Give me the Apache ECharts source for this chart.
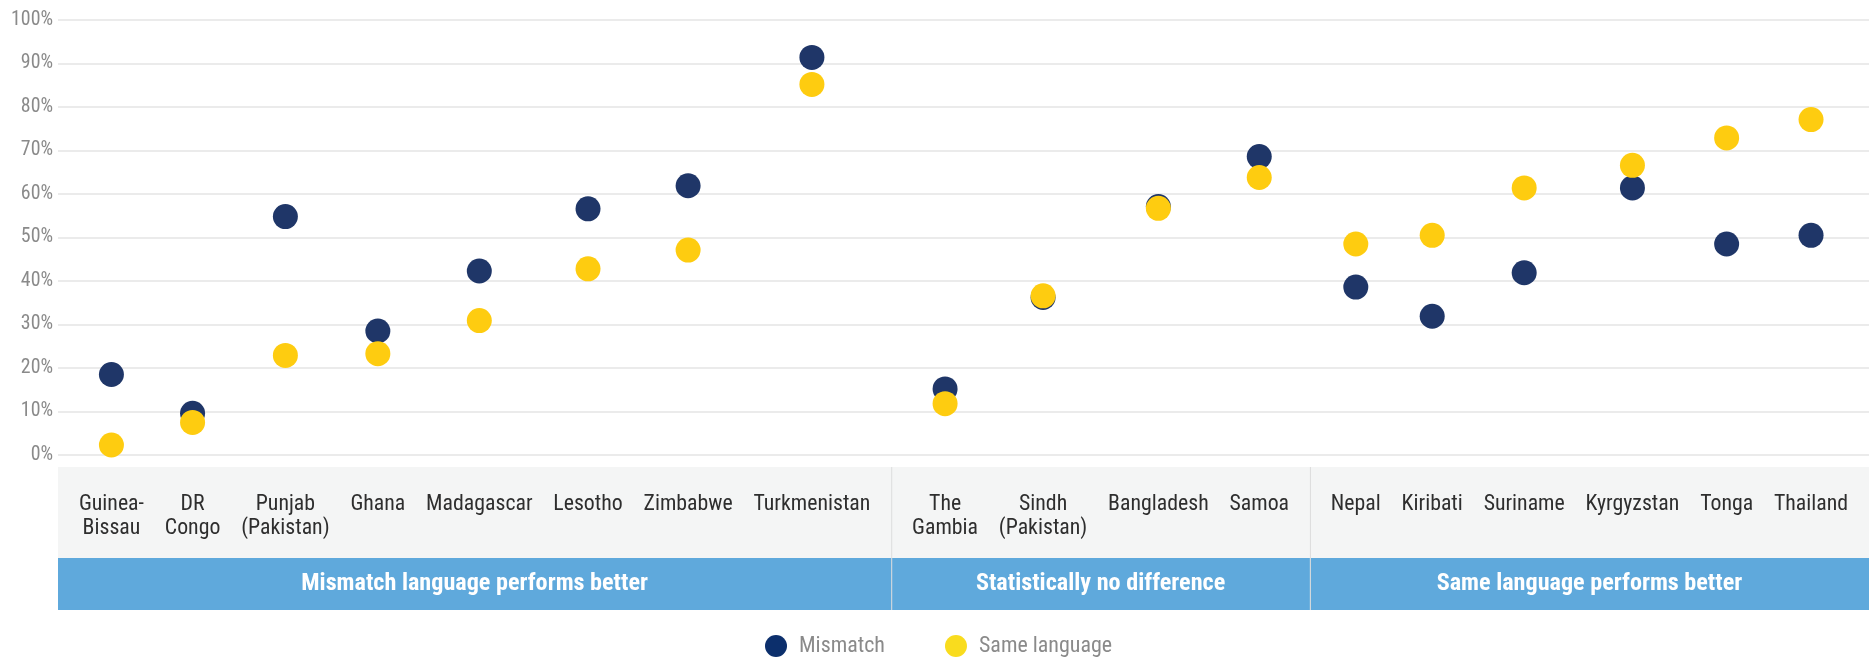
<!DOCTYPE html>
<html>
<head>
<meta charset="utf-8">
<script src="https://cdn.jsdelivr.net/npm/echarts@6/dist/echarts.min.js"></script>
<style>
html,body{margin:0;padding:0;background:#fff;}
#chart{width:1869px;height:657px;}
</style>
</head>
<body>
<div id="chart"></div>
<script>
// ---- data ----
const categories = ['Guinea-\nBissau', 'DR\nCongo', 'Punjab\n(Pakistan)', 'Ghana', 'Madagascar', 'Lesotho', 'Zimbabwe', 'Turkmenistan',
  'The\nGambia', 'Sindh\n(Pakistan)', 'Bangladesh', 'Samoa',
  'Nepal', 'Kiribati', 'Suriname', 'Kyrgyzstan', 'Tonga', 'Thailand'];
const mismatch = [18.5, 9.6, 54.8, 28.5, 42.3, 56.6, 61.9, 91.4, 15.2, 36.2, 57.1, 68.6, 38.6, 31.9, 41.9, 61.4, 48.5, 50.5];
const sameLanguage = [2.3, 7.5, 22.9, 23.3, 30.9, 42.8, 47.1, 85.2, 11.8, 36.6, 56.7, 63.8, 48.5, 50.5, 61.4, 66.6, 72.9, 77.1];
const groupNames = ['Mismatch language performs better', 'Statistically no difference', 'Same language performs better'];
const groupSizes = [8, 4, 6];
const seriesNames = ['Mismatch', 'Same language'];
const yMin = 0, yMax = 100, yStep = 10;

// ---- font selection / sizing ----
const ctx = document.createElement('canvas').getContext('2d');
function tw(text, font) { ctx.font = font; return ctx.measureText(text).width; }
function hasFont(fam) {
  const s = 'Turkmenistan Wg 100%';
  return Math.abs(tw(s, '40px monospace') - tw(s, "40px '" + fam + "', monospace")) > 0.5;
}
const fam = ['Roboto Condensed', 'Liberation Sans Narrow', 'Roboto'].find(hasFont) || 'sans-serif';
const FONT = "'" + fam + "', sans-serif";
function fit(text, target, maxSize, weight) {
  const m = tw(text, (weight || 'normal') + ' 100px ' + FONT);
  return Math.min(maxSize, 100 * target / m);
}
const catSize = fit('Turkmenistan', 117, 25);
const grpSize = fit('Mismatch language performs better', 347, 25, 'bold');
const axisSize = fit('100%', 42, 21);
const legSize = fit('Mismatch', 86, 25);
const catFont = catSize + 'px ' + FONT;

// ---- column layout (labels spaced evenly, like the table below the chart) ----
const GAP = 21;
const textW = categories.map(c => Math.max.apply(null, c.split('\n').map(s => tw(s, catFont))));
const centers = [];
const groupBounds = [];
let pos = 0, idx = 0;
groupSizes.forEach(n => {
  const start = pos;
  for (let k = 0; k < n; k++) {
    pos += GAP;
    centers.push(pos + textW[idx] / 2);
    pos += textW[idx];
    idx++;
  }
  pos += GAP;
  groupBounds.push([start, pos]);
});
const xMax = pos;

const chart = echarts.init(document.getElementById('chart'), null, {renderer: 'canvas'});
const option = {
  animation: false,
  backgroundColor: '#fff',
  grid: {left: 58, right: 0, top: 20, bottom: 202, outerBoundsMode: 'none', containLabel: false},
  xAxis: {
    type: 'value', min: 0, max: xMax,
    axisLine: {show: false}, axisTick: {show: false}, axisLabel: {show: false}, splitLine: {show: false}
  },
  yAxis: {
    type: 'value', min: yMin, max: yMax, interval: yStep,
    axisLine: {show: false}, axisTick: {show: false},
    axisLabel: {formatter: '{value}%', color: '#8a8a8a', fontSize: axisSize, fontFamily: FONT, margin: 5},
    splitLine: {lineStyle: {color: '#e4e4e4', width: 1.5}}
  },
  legend: {
    data: [
      {name: seriesNames[0], itemStyle: {color: '#0c2f6c'}},
      {name: seriesNames[1], itemStyle: {color: '#f9dc1e'}}
    ],
    top: 630, left: 760,
    icon: 'circle', itemWidth: 22, itemHeight: 22, itemGap: 60,
    textStyle: {color: '#8a8a8a', fontSize: legSize, fontFamily: FONT, padding: [0, 0, 0, 7]}
  },
  series: [
    {
      type: 'custom', name: 'bands', silent: true, z: 1,
      data: groupBounds.map((b, i) => [b[0], b[1], i]),
      renderItem: function (params, api) {
        const p0 = api.coord([api.value(0), 0]);
        const p1 = api.coord([api.value(1), 0]);
        const i = api.value(2);
        const base = p0[1];
        const w = p1[0] - p0[0];
        const children = [
          {type: 'rect', shape: {x: p0[0], y: base + 12, width: w, height: 91}, style: {fill: '#f4f5f5'}},
          {type: 'rect', shape: {x: p0[0], y: base + 103, width: w, height: 52}, style: {fill: '#5fa9dc'}},
          {type: 'text', x: p0[0] + w / 2, y: base + 129,
            style: {text: groupNames[i], fill: '#ffffff', fontSize: grpSize, fontWeight: 'bold', fontFamily: FONT,
              align: 'center', verticalAlign: 'middle'}}
        ];
        if (i > 0) {
          children.push({type: 'line', shape: {x1: p0[0] + 0.5, y1: base + 12, x2: p0[0] + 0.5, y2: base + 155},
            style: {stroke: '#dcdcdc', lineWidth: 1}});
        }
        return {type: 'group', children: children};
      }
    },
    {
      type: 'custom', name: 'labels', silent: true, z: 2,
      data: centers.map((c, i) => [c, i]),
      renderItem: function (params, api) {
        const p = api.coord([api.value(0), 0]);
        return {type: 'text', x: p[0], y: p[1] + 38,
          style: {text: categories[api.value(1)], fill: '#2e2e2e', fontSize: catSize, fontFamily: FONT,
            lineHeight: 24, align: 'center', verticalAlign: 'top'}};
      }
    },
    {
      type: 'scatter', name: seriesNames[0], z: 3,
      symbolSize: 25,
      itemStyle: {color: '#1f3668', opacity: 1},
      data: mismatch.map((v, i) => [centers[i], v])
    },
    {
      type: 'scatter', name: seriesNames[1], z: 4,
      symbolSize: 25,
      itemStyle: {color: '#fecc10', opacity: 1},
      data: sameLanguage.map((v, i) => [centers[i], v])
    }
  ]
};
chart.setOption(option);
</script>
</body>
</html>
